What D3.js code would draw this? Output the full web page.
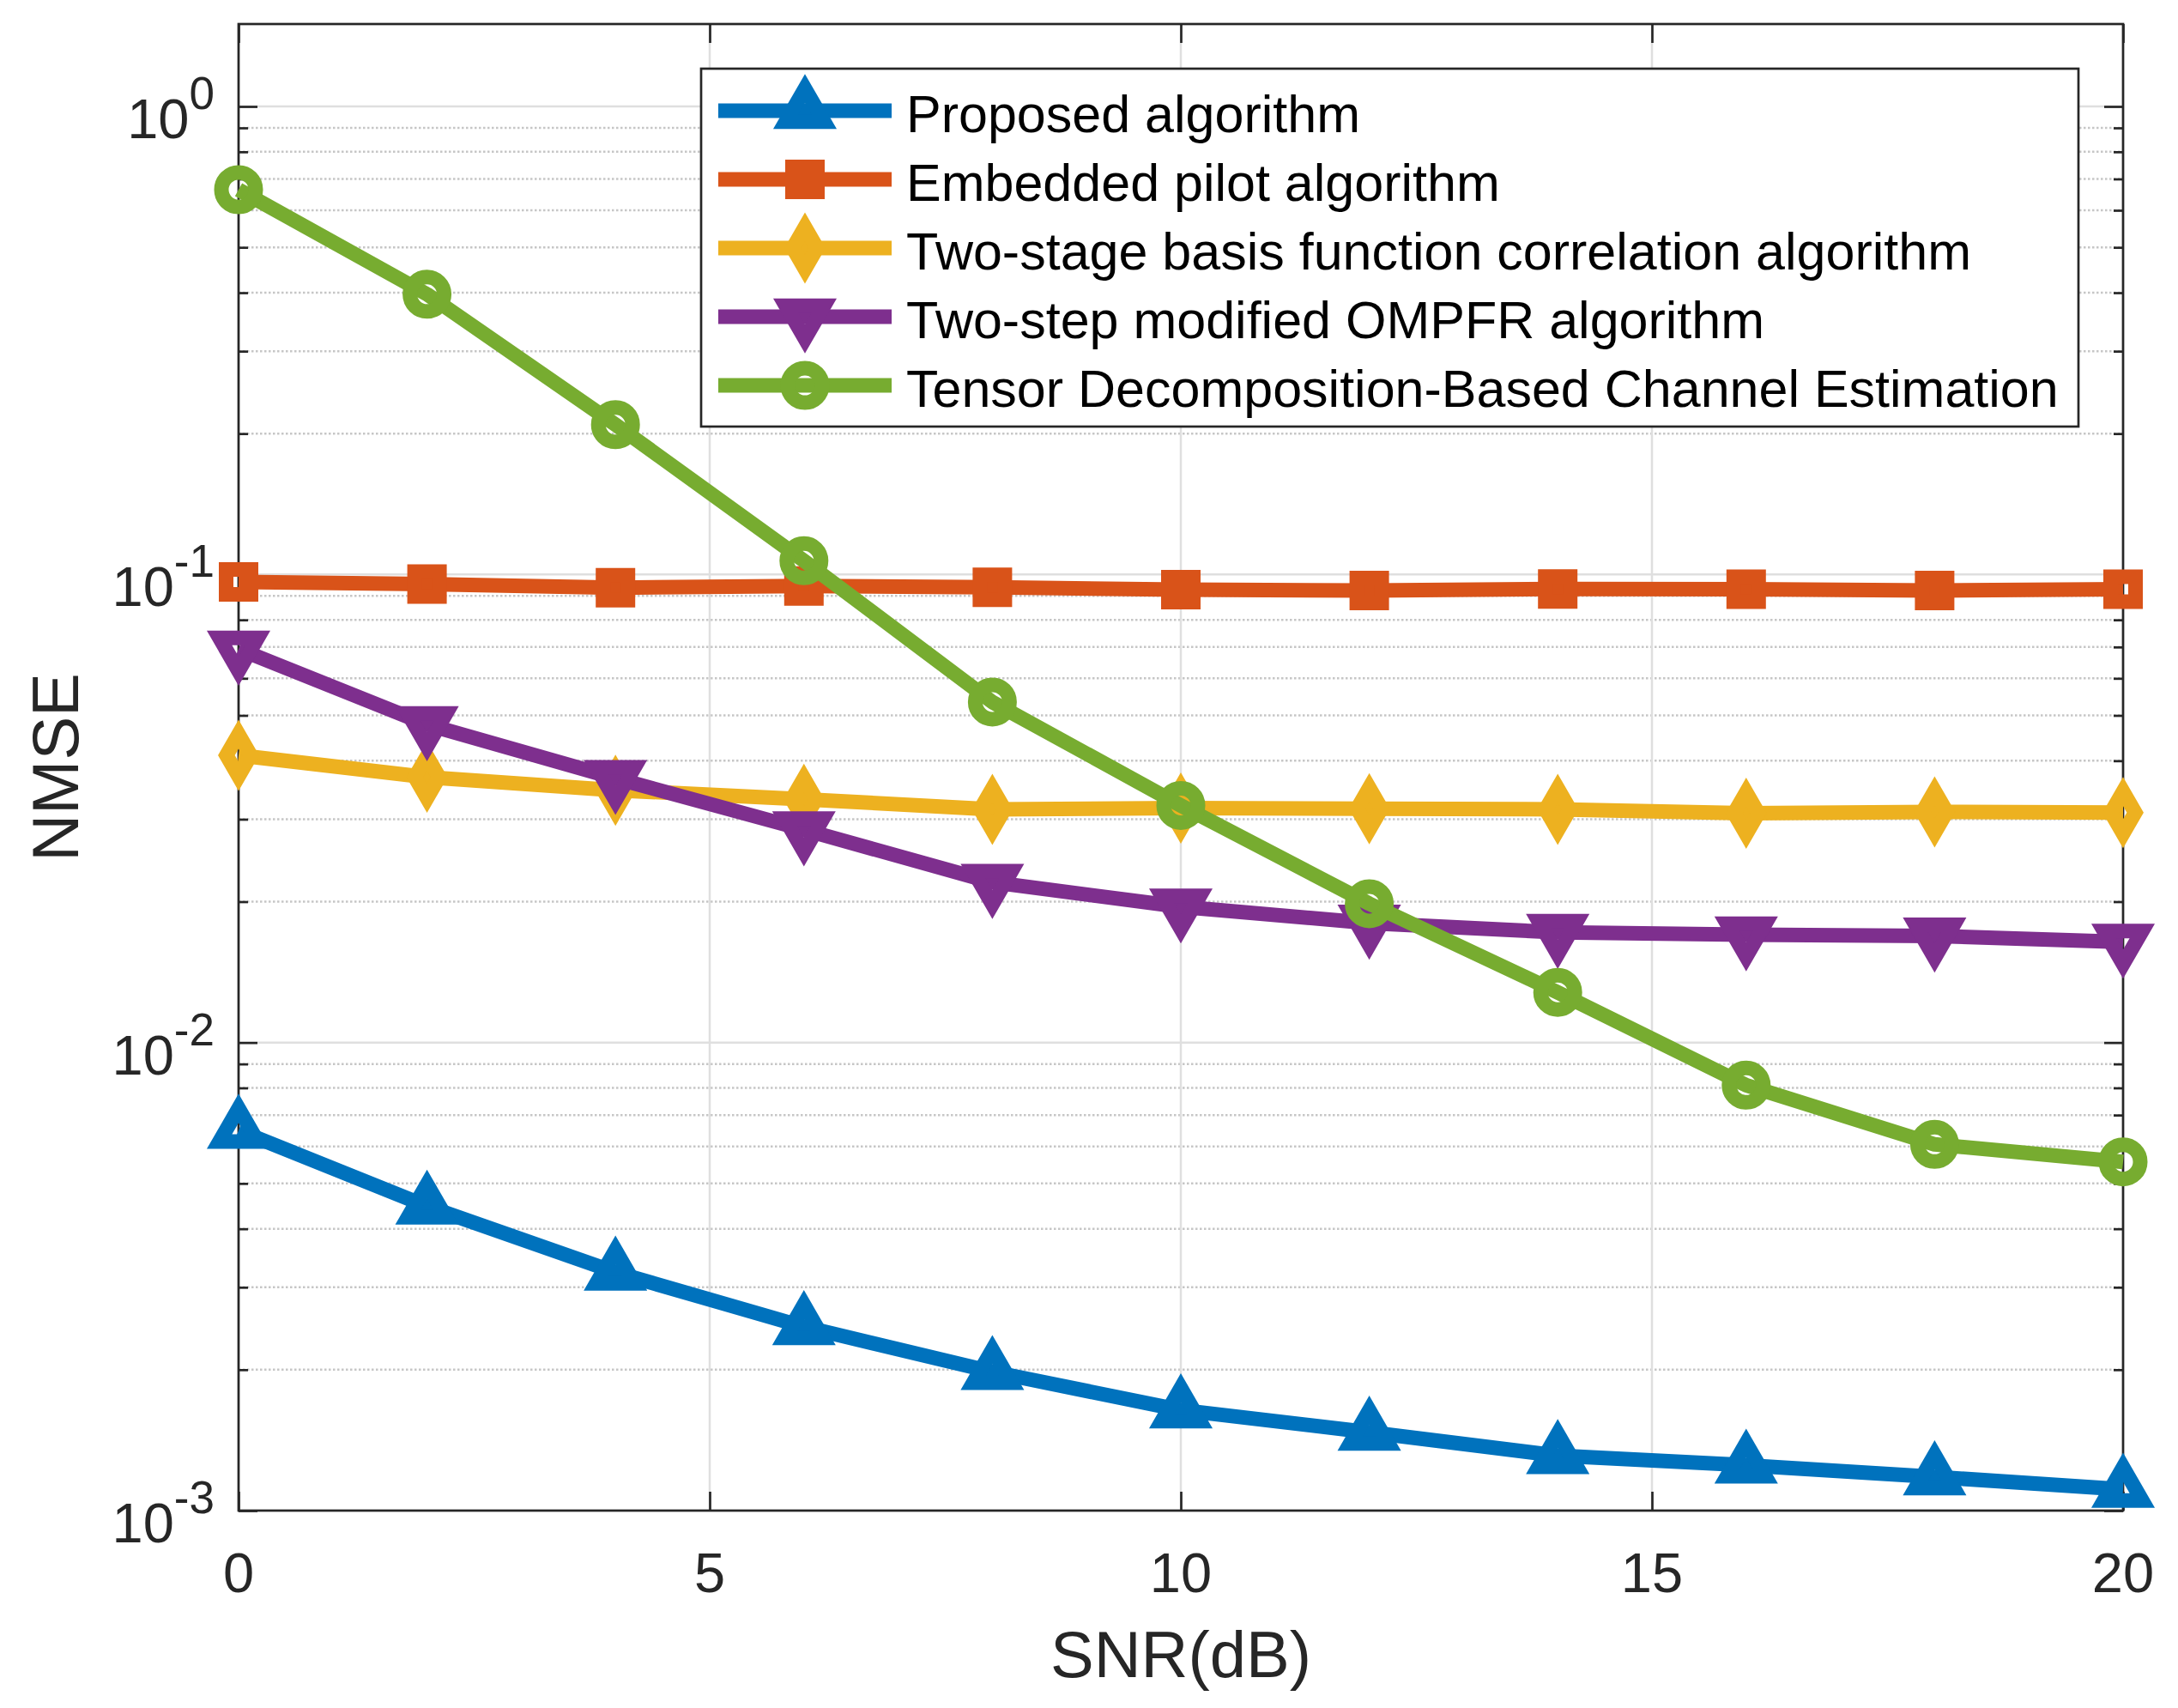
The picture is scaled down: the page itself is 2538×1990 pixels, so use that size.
<!DOCTYPE html>
<html>
<head>
<meta charset="utf-8">
<script src="https://cdn.jsdelivr.net/npm/d3@7"></script>
<style>
  body { margin: 0; background: #fff; }
  svg { display: block; }
  text { font-family: "Liberation Sans", Arial, Helvetica, sans-serif; }
</style>
</head>
<body>
<svg id="chart" width="2538" height="1990"></svg>
<script>
// values
var snr = [0, 2, 4, 6, 8, 10, 12, 14, 16, 18, 20];
var proposed = [0.00649, 0.00447, 0.00323, 0.00247, 0.00198, 0.00164, 0.00147, 0.00131, 0.00125, 0.00118, 0.00111];
var embedded = [0.0964, 0.0954, 0.0937, 0.0945, 0.0939, 0.0928, 0.0924, 0.0931, 0.0930, 0.0924, 0.0930];
var twoStage = [0.0411, 0.0369, 0.0346, 0.0331, 0.0315, 0.0317, 0.0316, 0.0315, 0.0309, 0.0311, 0.0310];
var ompfr = [0.0693, 0.0478, 0.0367, 0.0285, 0.0220, 0.0195, 0.0180, 0.0172, 0.0170, 0.0169, 0.0164];
var tensor = [0.664, 0.397, 0.209, 0.107, 0.0534, 0.0321, 0.0198, 0.0128, 0.00811, 0.00606, 0.00556];

var seriesNames = [
  'Proposed algorithm',
  'Embedded pilot algorithm',
  'Two-stage basis function correlation algorithm',
  'Two-step modified OMPFR algorithm',
  'Tensor Decomposition-Based Channel Estimation'
];
var seriesValues = [proposed, embedded, twoStage, ompfr, tensor];
var seriesColors = ['#0072BD', '#D95319', '#EDB120', '#7E2F8E', '#77AC30'];
var seriesMarkers = ['up', 'square', 'diamond', 'down', 'circle'];

var xTicks = [0, 5, 10, 15, 20];
var yMajor = [1e-3, 1e-2, 1e-1, 1e0];

var axisColor = '#262626',
    lineW = 17;

var svg = d3.select('#chart');
svg.append('rect').attr('width', 2538).attr('height', 1990).attr('fill', '#fff');

var x = d3.scaleLinear().domain([0, 20]).range([278, 2474]),
    y = d3.scaleLog().domain([1e-3, 1.5]).range([1760, 28]);

// plot edges (named so they don't clash with window.top)
var pLeft = x.range()[0], pRight = x.range()[1],
    pTop = y.range()[1], pBottom = y.range()[0];

// minor log values 2..9 per decade
var yMinor = [];
yMajor.forEach(function(m) {
  for (var k = 2; k <= 9; k++) {
    if (k * m <= 1.5) yMinor.push(k * m);
  }
});

// grid
var grid = svg.append('g');
grid.selectAll('line.minor').data(yMinor).enter().append('line')
  .attr('x1', pLeft).attr('x2', pRight)
  .attr('y1', function(d) { return y(d); }).attr('y2', function(d) { return y(d); })
  .attr('stroke', '#c6c6c6').attr('stroke-width', 2.5).attr('stroke-dasharray', '2.5,2.5');
grid.selectAll('line.major').data(yMajor).enter().append('line')
  .attr('x1', pLeft).attr('x2', pRight)
  .attr('y1', function(d) { return y(d); }).attr('y2', function(d) { return y(d); })
  .attr('stroke', '#dfdfdf').attr('stroke-width', 2.5);
grid.selectAll('line.vx').data(xTicks).enter().append('line')
  .attr('x1', function(d) { return x(d); }).attr('x2', function(d) { return x(d); })
  .attr('y1', pTop).attr('y2', pBottom)
  .attr('stroke', '#dfdfdf').attr('stroke-width', 2.5);

// box and inward ticks
function tickAxis(axis, tx, ty) {
  var g = svg.append('g').attr('transform', 'translate(' + tx + ',' + ty + ')').call(axis);
  g.select('.domain').remove();
  g.selectAll('line').attr('stroke', axisColor).attr('stroke-width', 2.7);
  g.selectAll('text').remove();
}
tickAxis(d3.axisLeft(y).tickValues(yMajor).tickSize(-22), pLeft, 0);
tickAxis(d3.axisLeft(y).tickValues(yMinor).tickSize(-11), pLeft, 0);
tickAxis(d3.axisRight(y).tickValues(yMajor).tickSize(-22), pRight, 0);
tickAxis(d3.axisRight(y).tickValues(yMinor).tickSize(-11), pRight, 0);
tickAxis(d3.axisBottom(x).tickValues(xTicks).tickSize(-22), 0, pBottom);
tickAxis(d3.axisTop(x).tickValues(xTicks).tickSize(-22), 0, pTop);

svg.append('rect')
  .attr('x', pLeft).attr('y', pTop).attr('width', pRight - pLeft).attr('height', pBottom - pTop)
  .attr('fill', 'none').attr('stroke', axisColor).attr('stroke-width', 2.7);

// tick labels
svg.append('g').selectAll('text').data(xTicks).enter().append('text')
  .attr('x', function(d) { return x(d); }).attr('y', pBottom + 95)
  .attr('text-anchor', 'middle').attr('font-size', 65).attr('fill', axisColor)
  .text(function(d) { return d; });

var yl = svg.append('g').selectAll('text').data(yMajor).enter().append('text')
  .attr('x', pLeft - 28).attr('y', function(d) { return y(d) + 37; })
  .attr('text-anchor', 'end').attr('font-size', 65).attr('fill', axisColor);
yl.append('tspan').text('10');
yl.append('tspan').attr('font-size', 53).attr('dy', -34)
  .text(function(d) { return String(Math.round(Math.log10(d))); });

// axis labels
svg.append('text')
  .attr('x', (pLeft + pRight) / 2).attr('y', 1954)
  .attr('text-anchor', 'middle').attr('font-size', 76).attr('fill', axisColor)
  .text('SNR(dB)');
svg.append('text')
  .attr('transform', 'translate(91,' + ((pTop + pBottom) / 2) + ') rotate(-90)')
  .attr('text-anchor', 'middle').attr('font-size', 76).attr('fill', axisColor)
  .text('NMSE');

// markers
function markerPath(type) {
  if (type === 'up' || type === 'down') return d3.symbol(d3.symbolTriangle, 861)();
  if (type === 'square') return d3.symbol(d3.symbolSquare, 841)();
  if (type === 'diamond') return d3.symbol(d3.symbolDiamond, 693)();
  return d3.symbol(d3.symbolCircle, 1257)();
}
function markerRot(type) { return type === 'down' ? ' rotate(180)' : ''; }

var line = d3.line()
  .x(function(d) { return x(d[0]); })
  .y(function(d) { return y(d[1]); });

seriesValues.forEach(function(vals, i) {
  var pts = snr.map(function(s, j) { return [s, vals[j]]; });
  var g = svg.append('g');
  g.append('path').datum(pts)
    .attr('d', line)
    .attr('fill', 'none').attr('stroke', seriesColors[i])
    .attr('stroke-width', lineW).attr('stroke-linejoin', 'round');
  g.selectAll('path.mk').data(pts).enter().append('path')
    .attr('d', markerPath(seriesMarkers[i]))
    .attr('transform', function(d) {
      return 'translate(' + x(d[0]) + ',' + y(d[1]) + ')' + markerRot(seriesMarkers[i]);
    })
    .attr('fill', 'none').attr('stroke', seriesColors[i]).attr('stroke-width', lineW);
});

// legend
var leg = svg.append('g').attr('transform', 'translate(817,80)');
leg.append('rect').attr('width', 1605).attr('height', 417)
  .attr('fill', '#fff').attr('stroke', axisColor).attr('stroke-width', 2.7);
var rows = leg.selectAll('g.row').data(seriesNames).enter().append('g')
  .attr('transform', function(d, i) { return 'translate(0,' + (49 + i * 80) + ')'; });
rows.append('line')
  .attr('x1', 20).attr('x2', 222)
  .attr('stroke', function(d, i) { return seriesColors[i]; })
  .attr('stroke-width', lineW);
rows.append('path')
  .attr('d', function(d, i) { return markerPath(seriesMarkers[i]); })
  .attr('transform', function(d, i) { return 'translate(121,0)' + markerRot(seriesMarkers[i]); })
  .attr('fill', 'none')
  .attr('stroke', function(d, i) { return seriesColors[i]; })
  .attr('stroke-width', lineW);
rows.append('text')
  .attr('x', 239).attr('y', 25)
  .attr('font-size', 61).attr('fill', '#000')
  .text(function(d) { return d; });
</script>
</body>
</html>
